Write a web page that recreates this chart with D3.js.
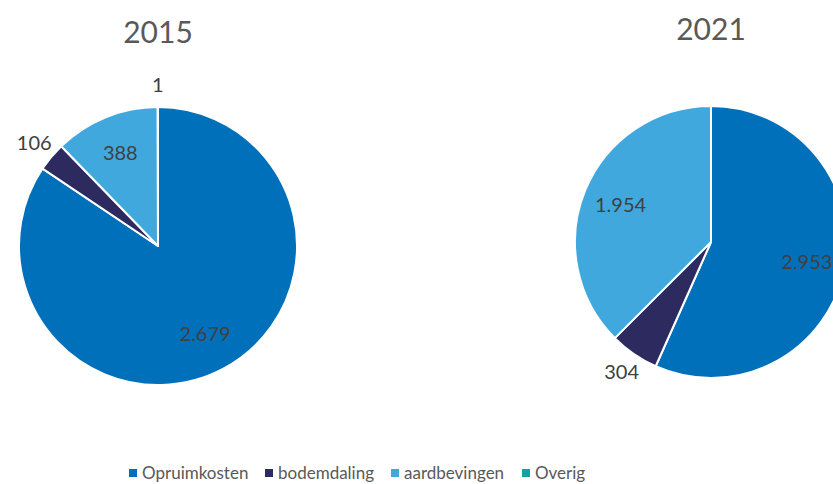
<!DOCTYPE html>
<html>
<head>
<meta charset="utf-8">
<script src="https://cdn.jsdelivr.net/npm/d3@7"></script>
<style>
    body { margin: 0; background: #fff; }
    svg { display: block; font-family: Lato, 'Open Sans', sans-serif; }
</style>
</head>
<body>
<div id="chart"></div>
<script>
const categories = ['Opruimkosten', 'bodemdaling', 'aardbevingen', 'Overig'];
const years = ['2015', '2021'];
const values2015 = [2679, 106, 388, 1];
const values2021 = [2953, 304, 1954, 0];
// Excel puts the small slices' labels outside the pie
const outside2015 = [false, true, false, true];
const outside2021 = [false, true, false, true];

const colors = ['#0070BA', '#2D2A5F', '#41A8DE', '#16A09E'];

const width = 833, height = 484;

const svg = d3.select('#chart')
    .append('svg')
    .attr('width', width)
    .attr('height', height);

const nl = d3.formatLocale({decimal: ',', thousands: '.', grouping: [3], currency: ['€', '']});
const fmt = nl.format(',d');

const color = d3.scaleOrdinal().domain(categories).range(colors);

const pies = [
    {year: years[0], values: values2015, outside: outside2015, cx: 158, cy: 246, r: 139, ty: 43},
    {year: years[1], values: values2021, outside: outside2021, cx: 711, cy: 242, r: 136, ty: 40}
];

const pie = d3.pie().sort(null).value(d => d.value);

pies.forEach(p => {
    const rows = categories.map((c, i) => ({cat: c, value: p.values[i], outside: p.outside[i]}));
    const arcs = pie(rows);
    const arc = d3.arc().innerRadius(0).outerRadius(p.r);
    const inLabel = d3.arc().innerRadius(p.r * 0.72).outerRadius(p.r * 0.72);
    const outLabel = d3.arc().innerRadius(p.r * 1.16).outerRadius(p.r * 1.16);

    const g = svg.append('g')
        .attr('transform', `translate(${p.cx},${p.cy})`);

    g.selectAll('.slice')
        .data(arcs.filter(d => d.value > 0))
        .enter()
        .append('path')
        .attr('class', 'slice')
        .attr('d', arc)
        .style('fill', d => color(d.data.cat))
        .style('stroke', '#fff')
        .style('stroke-width', 2)
        .style('stroke-linejoin', 'round');

    g.selectAll('.label')
        .data(arcs.filter(d => d.value > 0))
        .enter()
        .append('text')
        .attr('class', 'label')
        .attr('transform', d => `translate(${(d.data.outside ? outLabel : inLabel).centroid(d)})`)
        .attr('text-anchor', 'middle')
        .attr('dy', '0.35em')
        .style('font-size', '20px')
        .style('fill', '#404040')
        .text(d => fmt(d.value));

    svg.append('text')
        .attr('x', p.cx)
        .attr('y', p.ty)
        .attr('text-anchor', 'middle')
        .style('font-size', '30px')
        .style('fill', '#595959')
        .text(p.year);
});

// legend
const legendX = [129, 265, 391, 522];
const legend = svg.append('g');
legend.selectAll('.legend_square')
    .data(categories)
    .enter()
    .append('rect')
    .attr('x', (d, i) => legendX[i])
    .attr('y', 469)
    .attr('width', 8)
    .attr('height', 8)
    .style('fill', d => color(d));
legend.selectAll('.legend_text')
    .data(categories)
    .enter()
    .append('text')
    .attr('x', (d, i) => legendX[i] + 13)
    .attr('y', 479)
    .style('font-size', '17px')
    .style('fill', '#595959')
    .text(d => d);
</script>
</body>
</html>
